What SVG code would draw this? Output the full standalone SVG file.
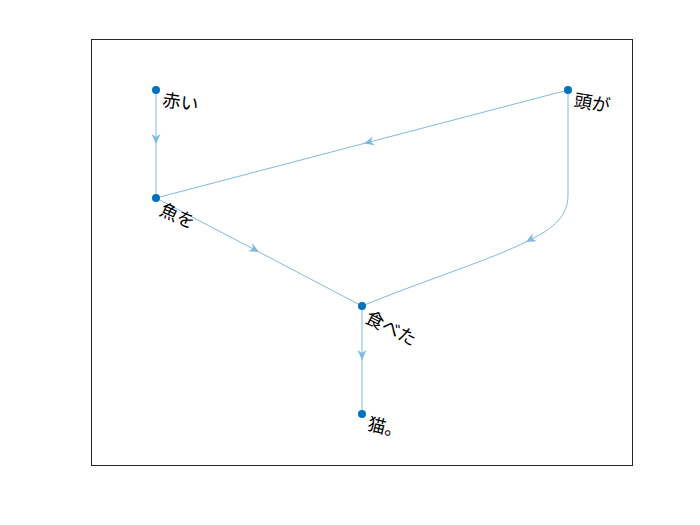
<svg xmlns="http://www.w3.org/2000/svg" width="700" height="525" viewBox="0 0 700 525">
<style>
.edge{fill:none;stroke:#80B9E0;stroke-width:1}
.ah{fill:#80B9E0;stroke:none}
.node{fill:#0072BD}
.lbl{font-family:"Liberation Sans","Noto Sans CJK JP",sans-serif;font-size:18px;fill:#000}
</style>
<defs>
<path id="arrow" d="M0,0 L-10,-4.5 L-7,0 L-10,4.5 Z"/>
</defs>
<rect x="0" y="0" width="700" height="525" fill="#fff"/>
<rect x="91.5" y="39.5" width="541" height="426" fill="#fff" stroke="#262626" stroke-width="1"/>
<g id="edges">
<path class="edge" d="M156,90 L156,198"/>
<path class="edge" d="M568,90 L156,198"/>
<path class="edge" d="M156,198 L362,306"/>
<path class="edge" d="M568,90 L568,195 C568,215 555,228 528,241 C490,260 420,282 362,306"/>
<path class="edge" d="M362,306 L362,414"/>
<use href="#arrow" class="ah" transform="translate(156,144) rotate(90)"/>
<use href="#arrow" class="ah" transform="translate(364,143.5) rotate(165.3)"/>
<use href="#arrow" class="ah" transform="translate(259,252) rotate(27.7)"/>
<use href="#arrow" class="ah" transform="translate(526,242) rotate(152)"/>
<use href="#arrow" class="ah" transform="translate(362,360) rotate(90)"/>
</g>
<g id="n1"><circle class="node" cx="156" cy="90" r="4"/><text class="lbl" x="164" y="105" transform="rotate(8 156 90)">赤い</text></g>
<g id="n2"><circle class="node" cx="568" cy="90" r="4"/><text class="lbl" x="576" y="105" transform="rotate(10 568 90)">頭が</text></g>
<g id="n3"><circle class="node" cx="156" cy="198" r="4"/><text class="lbl" x="165" y="212" transform="rotate(24 156 198)">魚を</text></g>
<g id="n4"><circle class="node" cx="362" cy="306" r="4"/><text class="lbl" x="371" y="319" transform="rotate(27 362 306)">食べた</text></g>
<g id="n5"><circle class="node" cx="362" cy="414" r="4"/><text class="lbl" x="370" y="428" transform="rotate(14 362 414)">猫。</text></g>
</svg>
